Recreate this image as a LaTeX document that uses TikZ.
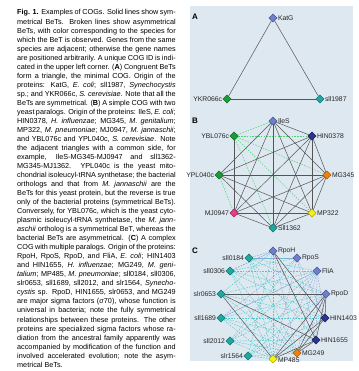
\documentclass[tikz,border=0pt]{standalone}
\usepackage{fontspec}
\setmainfont{Liberation Sans}
\usetikzlibrary{shapes.geometric}
\definecolor{panelbg}{HTML}{DEE8F0}
\definecolor{ecoliC}{HTML}{6F80C8}\definecolor{ecoliD}{HTML}{4A5AA0}
\definecolor{hinC}{HTML}{2B3590}\definecolor{hinD}{HTML}{1A2060}
\definecolor{yeastC}{HTML}{1F9A3A}\definecolor{yeastD}{HTML}{137028}
\definecolor{synC}{HTML}{1FA8A0}\definecolor{synD}{HTML}{137870}
\definecolor{mgC}{HTML}{F08010}\definecolor{mgD}{HTML}{B05C08}
\definecolor{mjC}{HTML}{E83C8C}\definecolor{mjD}{HTML}{A82060}
\definecolor{mpC}{HTML}{F5F010}\definecolor{mpD}{HTML}{B0A808}
\definecolor{solC}{HTML}{555555}
\definecolor{dgreen}{HTML}{4CD070}
\definecolor{dteal}{HTML}{55C8CC}
\definecolor{dblue}{HTML}{96A3DC}
\pgfdeclarelayer{bg}
\pgfdeclarelayer{edges}
\pgfsetlayers{bg,edges,main}
\newcommand\Ln[1]{\hbox to\hsize{#1}}
\tikzset{
  gene/.style={diamond, minimum size=8.2pt, inner sep=0pt, line width=0.4pt},
  ec/.style={gene, fill=ecoliC, draw=ecoliD},
  hi/.style={gene, fill=hinC, draw=hinD},
  ye/.style={gene, fill=yeastC, draw=yeastD},
  sy/.style={gene, fill=synC, draw=synD},
  mg/.style={gene, fill=mgC, draw=mgD},
  mj/.style={gene, fill=mjC, draw=mjD},
  mp/.style={gene, fill=mpC, draw=mpD},
  gl/.style={font=\fontsize{6.8}{7}\selectfont, inner sep=0.5pt, text=black!85},
  sol/.style={draw=solC, line width=0.5pt},
  dg/.style={draw=dgreen, line width=0.45pt, dash pattern=on 1.6pt off 1.2pt},
  dt/.style={draw=dteal, line width=0.45pt, dash pattern=on 1.6pt off 1.2pt},
  db/.style={draw=dblue, line width=0.45pt, dash pattern=on 1.6pt off 1.2pt},
  plab/.style={font=\bfseries\fontsize{8}{9}\selectfont, inner sep=0pt, anchor=west}
}
\begin{document}
\begin{tikzpicture}[x=1pt,y=-1pt]
\useasboundingbox (0,0) rectangle (358,371);
\begin{pgfonlayer}{bg}
\fill[panelbg] (190,6) rectangle (353,361);
\end{pgfonlayer}
% caption
\node[anchor=base west, inner sep=0pt] (cap) at (17,15) {\parbox[t]{158.5pt}{\fontsize{7.25}{9.03}\selectfont
\spaceskip=0.278em plus 0.6em minus 0.12em
\Ln{\textbf{Fig. 1.} Examples of COGs. Solid lines show sym-}
\Ln{metrical BeTs. Broken lines show asymmetrical}
\Ln{BeTs, with color corresponding to the species for}
\Ln{which the BeT is observed. Genes from the same}
\Ln{species are adjacent; otherwise the gene names}
\Ln{are positioned arbitrarily. A unique COG ID is indi-}
\Ln{cated in the upper left corner. (\textbf{A}) Congruent BeTs}
\Ln{form a triangle, the minimal COG. Origin of the}
\Ln{proteins: KatG, \textit{E. coli}; sll1987, \textit{Synechocystis}}
\Ln{sp.; and YKR066c, \textit{S. cerevisiae}. Note that all the}
\Ln{BeTs are symmetrical. (\textbf{B}) A simple COG with two}
\Ln{yeast paralogs. Origin of the proteins: IleS, \textit{E. coli};}
\Ln{HIN0378, \textit{H. influenzae}; MG345, \textit{M. genitalium};}
\Ln{MP322, \textit{M. pneumoniae}; MJ0947, \textit{M. jannaschii};}
\Ln{and YBL076c and YPL040c, \textit{S. cerevisiae}. Note}
\Ln{the adjacent triangles with a common side, for}
\Ln{example, IleS-MG345-MJ0947 and sll1362-}
\Ln{MG345-MJ1362. YPL040c is the yeast mito-}
\Ln{chondrial isoleucyl-tRNA synthetase; the bacterial}
\Ln{orthologs and that from \textit{M. jannaschii} are the}
\Ln{BeTs for this yeast protein, but the reverse is true}
\Ln{only of the bacterial proteins (symmetrical BeTs).}
\Ln{Conversely, for YBL076c, which is the yeast cyto-}
\Ln{plasmic isoleucyl-tRNA synthetase, the \textit{M. jann-}}
\Ln{\textit{aschii} ortholog is a symmetrical BeT, whereas the}
\Ln{bacterial BeTs are asymmetrical. (\textbf{C}) A complex}
\Ln{COG with multiple paralogs. Origin of the proteins:}
\Ln{RpoH, RpoS, RpoD, and FliA, \textit{E. coli}; HIN1403}
\Ln{and HIN1655, \textit{H. influenzae}; MG249, \textit{M. geni-}}
\Ln{\textit{talium}; MP485, \textit{M. pneumoniae}; sll0184, sll0306,}
\Ln{slr0653, sll1689, sll2012, and slr1564, \textit{Synecho-}}
\Ln{\textit{cystis} sp. RpoD, HIN1655, slr0653, and MG249}
\Ln{are major sigma factors (\textit{σ}70), whose function is}
\Ln{universal in bacteria; note the fully symmetrical}
\Ln{relationships between these proteins. The other}
\Ln{proteins are specialized sigma factors whose ra-}
\Ln{diation from the ancestral family apparently was}
\Ln{accompanied by modification of the function and}
\Ln{involved accelerated evolution; note the asym-}
\hbox{metrical BeTs.}}};
% panel letters
\node[plab] (la) at (192,17) {A};
\node[plab] (lb) at (192,121) {B};
\node[plab] (lc) at (192,251) {C};
% ---- Panel A
\node[ec, label={[gl]right:KatG}] (katg) at (273,18) {};
\node[ye, label={[gl]left:YKR066c}] (ykr) at (227,99) {};
\node[sy, label={[gl]right:sll1987}] (sll87) at (320,99) {};
\begin{pgfonlayer}{edges}
\draw[sol] (katg) -- (ykr);
\draw[sol] (katg) -- (sll87);
\draw[sol] (ykr) -- (sll87);
\end{pgfonlayer}
% ---- Panel B
\node[ec, label={[gl]right:IleS}] (ile) at (273,121) {};
\node[ye, label={[gl]left:YBL076c}] (ybl) at (234,136) {};
\node[hi, label={[gl]right:HIN0378}] (hin3) at (312,136) {};
\node[ye, label={[gl]left:YPL040c}] (ypl) at (219,175) {};
\node[mg, label={[gl]right:MG345}] (mg3) at (327,175) {};
\node[mj, label={[gl]left:MJ0947}] (mj) at (234,213) {};
\node[mp, label={[gl]right:MP322}] (mp3) at (312,213) {};
\node[sy, label={[gl]right:Sll1362}] (sll3) at (273,228) {};
\begin{pgfonlayer}{edges}
\foreach \a/\b in {ybl/ile,ybl/hin3,ybl/mg3,ybl/mp3,ybl/sll3,ypl/mj}
  \draw[dg] (\a) -- (\b);
\foreach \a/\b in {ile/hin3,ile/mg3,ile/mp3,ile/sll3,ile/mj,hin3/mg3,hin3/mp3,hin3/sll3,hin3/mj,
  mg3/mp3,mg3/sll3,mg3/mj,mp3/sll3,mp3/mj,sll3/mj,ypl/ile,ypl/hin3,ypl/mg3,ypl/mp3,ypl/sll3,ybl/mj}
  \draw[sol] (\a) -- (\b);
\end{pgfonlayer}
% ---- Panel C
\node[ec, label={[gl]right:RpoH}] (rpoH) at (273,251) {};
\node[sy, label={[gl]left:sll0184}] (s0184) at (249,258) {};
\node[ec, label={[gl]right:RpoS}] (rpoS) at (297,258) {};
\node[sy, label={[gl]left:sll0306}] (s0306) at (230,271) {};
\node[ec, label={[gl]right:FliA}] (fliA) at (317,271) {};
\node[sy, label={[gl]left:slr0653}] (r0653) at (221,294) {};
\node[ec, label={[gl]right:RpoD}] (rpoD) at (326,294) {};
\node[sy, label={[gl]left:sll1689}] (s1689) at (221,318) {};
\node[hi, label={[gl]right:HIN1403}] (h1403) at (325,318) {};
\node[sy, label={[gl]left:sll2012}] (s2012) at (230,341) {};
\node[hi, label={[gl]right:HIN1655}] (h1655) at (316,340) {};
\node[sy, label={[gl]left:slr1564}] (r1564) at (248,356) {};
\node[mg, label={[gl]right:MG249}] (mg249) at (297,353) {};
\node[mp, label={[gl,yshift=-1.5pt]right:MP485}] (mp485) at (273,359) {};
\begin{pgfonlayer}{edges}
\foreach \a/\b in {s0184/rpoS,s0184/fliA,s0184/mp485,s0184/mg249,s0184/h1655,s0184/rpoD,
  s0306/rpoH,s0306/rpoS,s0306/fliA,s0306/rpoD,s0306/mp485,s0306/mg249,s0306/h1403,
  r0653/rpoH,r0653/fliA,r0653/h1403,r0653/mg249,
  s1689/rpoD,s1689/fliA,s1689/mp485,s1689/mg249,s1689/h1403,s1689/h1655,
  s2012/mp485,s2012/mg249,s2012/rpoD,s2012/fliA,s2012/h1655,s2012/rpoS,
  r1564/mp485,r1564/mg249,r1564/rpoD,r1564/fliA,r1564/rpoH,r1564/h1403}
  \draw[dt] (\a) -- (\b);
\foreach \a/\b in {rpoH/s0184,rpoH/s0306,rpoH/mp485,rpoH/mg249,rpoS/s1689,rpoS/s0184,rpoS/mp485,
  rpoS/h1403,rpoS/h1655,fliA/mp485,fliA/mg249,fliA/h1403,fliA/h1655,fliA/s1689}
  \draw[db] (\a) -- (\b);
\foreach \a/\b in {rpoD/r0653,rpoD/h1655,rpoD/mg249,rpoD/h1403,rpoD/mp485,h1655/r0653,h1655/mg249,
  h1655/mp485,h1403/mg249,h1403/mp485,r0653/mp485,rpoH/h1403,rpoH/h1655}
  \draw[sol] (\a) -- (\b);
\end{pgfonlayer}
\end{tikzpicture}
\end{document}
